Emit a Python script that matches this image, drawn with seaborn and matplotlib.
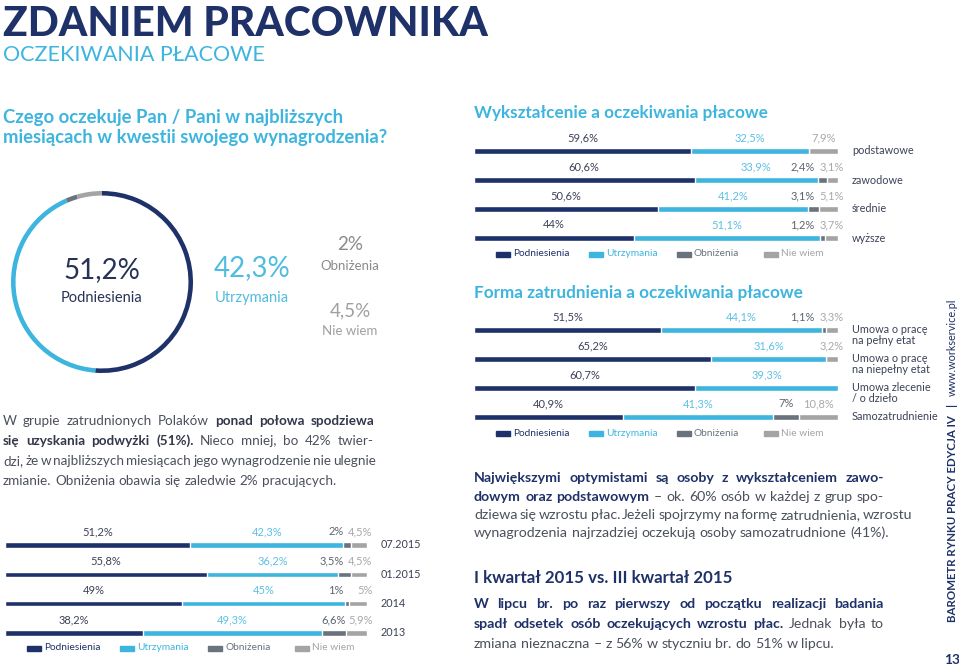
import matplotlib
matplotlib.use("Agg")
import matplotlib.pyplot as plt
import seaborn as sns
import pandas as pd
from matplotlib.patches import Rectangle

# ---- data ----
answers = ["Podniesienia", "Utrzymania", "Obniżenia", "Nie wiem"]
ring_values = [51.2, 42.3, 2.0, 4.5]

years = ["07.2015", "01.2015", "2014", "2013"]
year_podn = [51.2, 55.8, 49.0, 38.2]
year_utrz = [42.3, 36.2, 45.0, 49.3]
year_obn = [2.0, 3.5, 1.0, 6.6]
year_nw = [4.5, 4.5, 5.0, 5.9]

edu = ["podstawowe", "zawodowe", "średnie", "wyższe"]
edu_podn = [59.6, 60.6, 50.6, 44.0]
edu_utrz = [32.5, 33.9, 41.2, 51.1]
edu_obn = [0.0, 2.4, 3.1, 1.2]
edu_nw = [7.9, 3.1, 5.1, 3.7]

emp = ["Umowa o pracę\nna pełny etat", "Umowa o pracę\nna niepełny etat",
       "Umowa zlecenie\n/ o dzieło", "Samozatrudnienie"]
emp_podn = [51.5, 65.2, 60.7, 40.9]
emp_utrz = [44.1, 31.6, 39.3, 41.3]
emp_obn = [1.1, 0.0, 0.0, 7.0]
emp_nw = [3.3, 3.2, 0.0, 10.8]

NAVY = "#1e3168"
BLUE = "#3db5de"
DGRAY = "#69727d"
LGRAY = "#a4a4a4"
seg_colors = [NAVY, BLUE, DGRAY, LGRAY]
label_colors = ["#3c4257", "#5cc0e2", "#5d646e", "#a8a8a8"]
TEXT = "#4b505c"

sns.set_theme(style="white")
plt.rcParams["font.family"] = ["Lato", "DejaVu Sans"]

W, H = 959, 669
fig = plt.figure(figsize=(W / 100, H / 100), dpi=100)
fig.patch.set_facecolor("white")
renderer = fig.canvas.get_renderer()


def fx(x):
    return x / W


def fy(y):
    return 1 - y / H


def px_axes(x0, y0, x1, y1, **kw):
    return fig.add_axes([fx(x0), fy(y1), (x1 - x0) / W, (y1 - y0) / H], **kw)


def txt(x, y, s, size, color, weight="normal", ha="left", va="center", **kw):
    return fig.text(fx(x), fy(y), s, fontsize=size, color=color,
                    fontweight=weight, ha=ha, va=va, **kw)


def draw_runs(x, y, runs, size, width=None):
    # runs: (text, weight, color); justified when width is given
    words = []
    for s, weight, color in runs:
        for w in s.split():
            t = txt(0, y, w, size, color, weight, va="baseline")
            words.append((t, t.get_window_extent(renderer).width))
    a = txt(0, y, "a a", size, TEXT)
    b = txt(0, y, "aa", size, TEXT)
    space = a.get_window_extent(renderer).width - b.get_window_extent(renderer).width
    a.remove()
    b.remove()
    total = sum(w for _, w in words)
    gap = space
    if width is not None and len(words) > 1:
        gap = max((width - total) / (len(words) - 1), space * 0.6)
    cx = x
    for t, w in words:
        t.set_x(fx(cx))
        cx += w + gap


def pct(v):
    s = f"{v:.1f}".replace(".", ",")
    if s.endswith(",0"):
        s = s[:-2]
    return s + "%"


def stacked_chart(x0, x1, y_first, step, cats, layers, thickness, cat_gap):
    n = len(cats)
    ax = px_axes(x0, y_first - step / 2, x1, y_first + (n - 0.5) * step)
    df = pd.DataFrame({"cat": cats})
    cum = [0.0] * n
    cols = []
    for k, vals in enumerate(layers):
        cum = [c + v for c, v in zip(cum, vals)]
        df[f"c{k}"] = cum
        cols.append(f"c{k}")
    for k in reversed(range(len(layers))):
        sns.barplot(data=df, x=cols[k], y="cat", color=seg_colors[k], orient="h",
                    width=thickness, saturation=1, errorbar=None, ax=ax)
    ax.set_xlim(0, 100)
    ax.set_ylim(n - 0.5, -0.5)
    ax.axis("off")
    for i in range(n):
        start = 0.0
        for k, vals in enumerate(layers):
            v = vals[i]
            if v > 0:
                if k < 2 or v >= 6:
                    lx, ha = start + v / 2, "center"
                elif k == 2:
                    lx, ha = 93.5, "right"
                else:
                    lx, ha = 101.5, "right"
                ax.text(lx, i - 0.45, pct(v), ha=ha, va="center", fontsize=8,
                        color=label_colors[k], clip_on=False)
            start += v
        name = cats[i]
        dy = 0.17 if "\n" in name else 0.0
        ax.text(1 + cat_gap / (x1 - x0), i + dy, name, transform=ax.get_yaxis_transform(),
                ha="left", va="center", fontsize=7.8, color="#3c4257",
                linespacing=0.95, clip_on=False)
    return ax


def legend_row(x0, y):
    offsets = [22, 115, 203, 290]
    for off, name, c in zip(offsets, answers, seg_colors):
        fig.patches.append(Rectangle((fx(x0 + off), fy(y + 2.5)), 14 / W, 5 / H,
                                     transform=fig.transFigure, color=c))
        txt(x0 + off + 17, y, name, 7.3, c)


# ---- header ----
txt(3, 36, "ZDANIEM PRACOWNIKA", 29.3, NAVY, "black", va="baseline")
txt(3, 61, "OCZEKIWANIA PŁACOWE", 15.5, BLUE, va="baseline")
txt(3, 117, "Czego oczekuje Pan / Pani w najbliższych", 13.3, BLUE, "bold")
txt(3, 137, "miesiącach w kwestii swojego wynagrodzenia?", 13.3, BLUE, "bold")

# ---- ring ----
cx, cy, r = 102, 282, 91
ax_ring = px_axes(cx - r, cy - r, cx + r, cy + r)
ax_ring.pie(ring_values, colors=seg_colors, startangle=90, counterclock=False,
            wedgeprops=dict(width=0.05, linewidth=0))
ax_ring.set_xlim(-1, 1)
ax_ring.set_ylim(-1, 1)
ax_ring.axis("off")

txt(cx, 270, pct(ring_values[0]), 20, "#283255", ha="center")
txt(cx, 298, answers[0], 10.5, "#283255", ha="center")
txt(252, 268, pct(ring_values[1]), 20, "#4fbce0", ha="center")
txt(252, 298, answers[1], 10.5, "#4fbce0", ha="center")
txt(350, 245, pct(ring_values[2]), 13.5, "#8a8a8a", ha="center")
txt(350, 266, answers[2], 9.5, "#8a8a8a", ha="center")
txt(350, 311, pct(ring_values[3]), 13.5, "#a0a0a0", ha="center")
txt(350, 331, answers[3], 9.5, "#a0a0a0", ha="center")

# ---- left paragraph ----
B = "#33374a"
PS = 9.7
draw_runs(3, 425, [("W grupie zatrudnionych Polaków", "normal", TEXT),
                   ("ponad połowa spodziewa", "bold", B)], PS, 371)
draw_runs(3, 445, [("się uzyskania podwyżki (51%).", "bold", B),
                   ("Nieco mniej, bo 42% twier-", "normal", TEXT)], PS, 371)
draw_runs(3, 465, [("dzi, że w najbliższych miesiącach jego wynagrodzenie nie ulegnie",
                    "normal", TEXT)], PS, 371)
draw_runs(3, 485, [("zmianie. Obniżenia obawia się zaledwie 2% pracujących.", "normal", TEXT)], PS)

# ---- left stacked bars (years) ----
stacked_chart(5, 367, 545, 29.3, years, [year_podn, year_utrz, year_obn, year_nw], 0.18, 14)
legend_row(5, 648)

# ---- right: education ----
txt(474, 113, "Wykształcenie a oczekiwania płacowe", 12.3, BLUE, "bold")
stacked_chart(474, 838, 151, 29, edu, [edu_podn, edu_utrz, edu_obn, edu_nw], 0.19, 14)
legend_row(474, 254)

# ---- right: employment form ----
txt(474, 293, "Forma zatrudnienia a oczekiwania płacowe", 12.3, BLUE, "bold")
stacked_chart(474, 838, 330, 29, emp, [emp_podn, emp_utrz, emp_obn, emp_nw], 0.19, 14)
legend_row(474, 433)

# ---- right paragraphs ----
RS = 10.2
draw_runs(474, 482, [("Największymi optymistami są osoby z wykształceniem zawo-", "bold", NAVY)],
          RS, 410)
draw_runs(474, 501, [("dowym oraz podstawowym", "bold", NAVY),
                     ("– ok. 60% osób w każdej z grup spo-", "normal", TEXT)], RS, 410)
draw_runs(474, 519, [("dziewa się wzrostu płac. Jeżeli spojrzymy na formę zatrudnienia, wzrostu",
                      "normal", TEXT)], RS, 410)
draw_runs(474, 537, [("wynagrodzenia najrzadziej oczekują osoby samozatrudnione (41%).",
                      "normal", TEXT)], RS)

txt(474, 578, "I kwartał 2015 vs. III kwartał 2015", 12.2, NAVY, "bold")
draw_runs(474, 608, [("W lipcu br. po raz pierwszy od początku realizacji badania", "bold", NAVY)],
          RS, 410)
draw_runs(474, 628, [("spadł odsetek osób oczekujących wzrostu płac.", "bold", NAVY),
                     ("Jednak była to", "normal", TEXT)], RS, 410)
draw_runs(474, 648, [("zmiana nieznaczna – z 56% w styczniu br. do 51% w lipcu.", "normal", TEXT)],
          RS)

# ---- side strip ----
txt(952, 622, "BAROMETR RYNKU PRACY EDYCJA IV", 8.3, NAVY, "bold",
    ha="center", va="bottom", rotation=90)
txt(952, 404, "|", 8.3, NAVY, "bold", ha="center", rotation=90)
txt(952, 396, "www.workservice.pl", 7.8, NAVY, ha="center", va="bottom", rotation=90)
txt(952, 660, "13", 10, NAVY, "bold", ha="center")

fig.savefig("out.png", dpi=100, facecolor="white")
